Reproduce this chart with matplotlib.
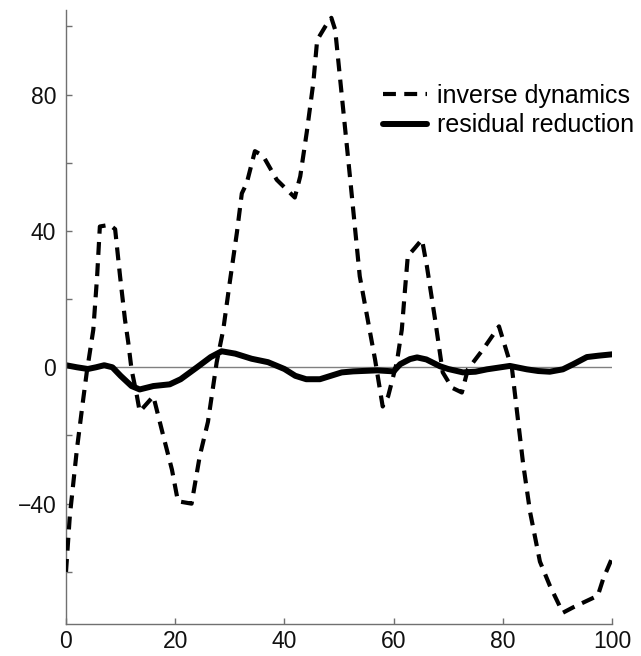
import matplotlib.pyplot as plt
import numpy as np

plt.rcParams['font.family'] = ['Liberation Sans', 'DejaVu Sans']

# inverse dynamics (dashed)
x_inv = [0, 0.7, 2, 3.1, 3.8, 5, 5.7, 6.2, 8, 9, 9.9, 10.8, 11.4, 12, 13, 13.5,
         16, 17.8, 19.4, 20.5, 23, 24.5, 26, 27.6, 28.8, 30, 31.3, 32.2, 33.1,
         34.6, 36.1, 38.6, 41.9, 42.9, 44.1, 45.3, 46, 47.5, 48.6, 49.3, 52,
         53.8, 56.6, 58, 59, 60.6, 61.5, 62.1, 62.6, 63.9, 65.2, 66.1, 67.6,
         69, 70.7, 72.5, 73.6, 76.4, 79.3, 81.7, 82.6, 83.7, 85, 86.8, 88.6,
         91, 92.9, 97.4, 98.4, 100]
y_inv = [-60, -43.6, -24, -10, -1.5, 11, 26.7, 41.3, 41.8, 40.5, 26.7, 14, 7.3,
         -0.6, -8.5, -13, -8.5, -20, -30, -39.3, -40, -26, -16, 1.5, 11, 25,
         39.5, 51, 54, 63.4, 62, 55, 49.8, 56, 69, 83.5, 96, 100, 102.5, 99,
         56, 26.7, 2.3, -11.5, -8.5, 1.5, 11, 23, 32.6, 35, 37.5, 29.6, 14,
         -1.5, -6, -7.4, -0.6, 5.3, 12, -0.6, -13, -28, -42.5, -57, -64,
         -72, -70.4, -67, -62, -56]

# residual reduction (solid)
x_res = [0, 2, 4, 5.5, 7, 8.5, 10, 12, 13.5, 16, 19, 21, 24, 26.5, 28.5, 31,
         34, 37, 40, 42, 44, 46.5, 48.5, 50.5, 52.6, 57, 60, 61.2, 63, 64.3,
         66, 68.5, 70, 72.7, 75, 77.1, 81.3, 84.4, 86.5, 88.6, 91, 92.9, 95.4,
         97.5, 100]
y_res = [0.6, 0, -0.5, 0, 0.6, 0, -2.5, -5.5, -6.5, -5.5, -5, -3.5, 0, 3, 4.7,
         4, 2.5, 1.5, -0.5, -2.5, -3.5, -3.5, -2.5, -1.5, -1.2, -0.9, -1.2,
         0.9, 2.4, 2.9, 2.3, 0.3, -0.5, -1.5, -1.3, -0.6, 0.4, -0.6, -1.1,
         -1.3, -0.6, 0.9, 3, 3.4, 3.8]

x_ticks = [0, 20, 40, 60, 80, 100]
y_ticks = [-60, -40, -20, 0, 20, 40, 60, 80, 100]
y_labels = ['' if v % 40 else str(v).replace('-', '\u2212') for v in y_ticks]

fig = plt.figure(figsize=(6.41, 6.56), dpi=100)
ax = fig.add_axes([66 / 641, 32 / 656, 546 / 641, 614 / 656])

ax.axhline(0, color='#808080', lw=1.0, zorder=1)
ax.plot(x_inv, y_inv, color='black', lw=3.0, linestyle=(0, (3.1, 2.0)),
        label='inverse dynamics', zorder=3)
ax.plot(x_res, y_res, color='black', lw=4.3, solid_capstyle='round',
        label='residual reduction', zorder=2)

ax.set_xlim(0, 100)
ax.set_ylim(-75.3, 104.8)
ax.set_xticks(x_ticks)
ax.set_yticks(y_ticks)
ax.set_yticklabels(y_labels)

for s in ['top', 'right']:
    ax.spines[s].set_visible(False)
for s in ['left', 'bottom']:
    ax.spines[s].set_color('#707070')
    ax.spines[s].set_linewidth(1.0)

ax.tick_params(direction='in', length=4, width=1, color='#707070',
               labelsize=16.5, pad=7, labelcolor='#111111')
ax.tick_params(axis='x', pad=4.5)

ax.legend(loc='upper left', bbox_to_anchor=(383 / 641, 1 - 84 / 656),
          bbox_transform=fig.transFigure, frameon=False, fontsize=18,
          handlelength=1.75, handletextpad=0.4, labelspacing=0.22,
          borderpad=0, borderaxespad=0)

fig.savefig('out.png', dpi=100)
